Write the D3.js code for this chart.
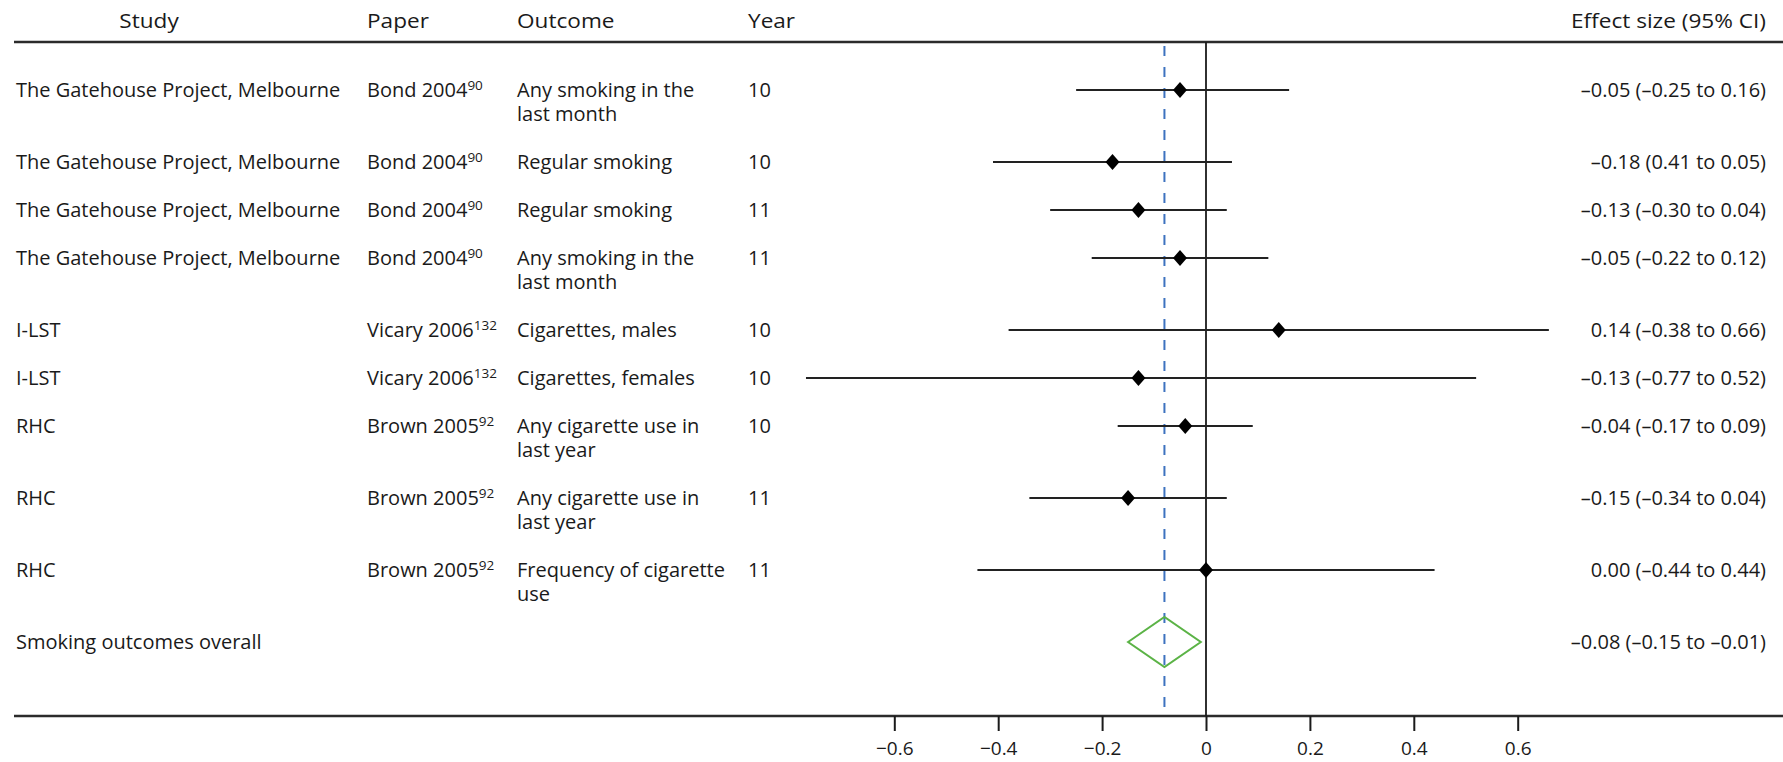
<!DOCTYPE html>
<html>
<head>
<meta charset="utf-8">
<script src="https://cdn.jsdelivr.net/npm/d3@7"></script>
<style>
  html, body { margin: 0; padding: 0; background: #fff; }
  svg { display: block; }
  text { font-family: "Open Sans", "Noto Sans", sans-serif; fill: #1a1a1a; }
</style>
</head>
<body>
<svg id="chart" width="1783" height="762"></svg>
<script>
// Study rows
const studies = [
  "The Gatehouse Project, Melbourne",
  "The Gatehouse Project, Melbourne",
  "The Gatehouse Project, Melbourne",
  "The Gatehouse Project, Melbourne",
  "I-LST",
  "I-LST",
  "RHC",
  "RHC",
  "RHC"
];
const papers = ["Bond 2004", "Bond 2004", "Bond 2004", "Bond 2004", "Vicary 2006", "Vicary 2006", "Brown 2005", "Brown 2005", "Brown 2005"];
const refs = ["90", "90", "90", "90", "132", "132", "92", "92", "92"];
const outcomes = [
  ["Any smoking in the", "last month"],
  ["Regular smoking"],
  ["Regular smoking"],
  ["Any smoking in the", "last month"],
  ["Cigarettes, males"],
  ["Cigarettes, females"],
  ["Any cigarette use in", "last year"],
  ["Any cigarette use in", "last year"],
  ["Frequency of cigarette", "use"]
];
const years = ["10", "10", "11", "11", "10", "10", "10", "11", "11"];
const effects = [-0.05, -0.18, -0.13, -0.05, 0.14, -0.13, -0.04, -0.15, 0.00];
const lowers  = [-0.25, -0.41, -0.30, -0.22, -0.38, -0.77, -0.17, -0.34, -0.44];
const uppers  = [ 0.16,  0.05,  0.04,  0.12,  0.66,  0.52,  0.09,  0.04,  0.44];
const effectLabels = [
  "\u20130.05 (\u20130.25 to 0.16)",
  "\u20130.18 (0.41 to 0.05)",
  "\u20130.13 (\u20130.30 to 0.04)",
  "\u20130.05 (\u20130.22 to 0.12)",
  "0.14 (\u20130.38 to 0.66)",
  "\u20130.13 (\u20130.77 to 0.52)",
  "\u20130.04 (\u20130.17 to 0.09)",
  "\u20130.15 (\u20130.34 to 0.04)",
  "0.00 (\u20130.44 to 0.44)"
];

// Pooled estimate
const overallLabel = "Smoking outcomes overall";
const overallEffect = -0.08;
const overallLower = -0.15;
const overallUpper = -0.01;
const overallText = "\u20130.08 (\u20130.15 to \u20130.01)";

// Column headers and axis ticks
const headers = ["Study", "Paper", "Outcome", "Year", "Effect size (95% CI)"];
const tickValues = [-0.6, -0.4, -0.2, 0, 0.2, 0.4, 0.6];

const svg = d3.select("#chart");
const W = 1783;
const fontSize = 20;

const x = d3.scaleLinear().domain([-0.6, 0.6]).range([894.3, 1517.7]);

// Row layout: single-line rows take 48px, two-line rows 72px
const rowY = [];
let yCur = 90;
outcomes.forEach(o => { rowY.push(yCur); yCur += o.length > 1 ? 72 : 48; });
const overallY = yCur;

const headerLineY = 42;
const axisY = 716;
const col = { study: 16, paper: 367, outcome: 517, year: 748, effect: 1766 };

// Header (slightly widened lettering)
const hdrPos = [
  { x: 149, anchor: "middle" },
  { x: col.paper, anchor: "start" },
  { x: col.outcome, anchor: "start" },
  { x: col.year, anchor: "start" },
  { x: col.effect, anchor: "end" }
];
svg.append("g").attr("font-size", fontSize)
  .selectAll("text").data(headers).join("text")
  .attr("transform", (d, i) => `translate(${hdrPos[i].x},21) scale(1.13,1)`)
  .attr("dy", "0.35em")
  .attr("text-anchor", (d, i) => hdrPos[i].anchor)
  .text(d => d);

// Horizontal rules
svg.append("line").attr("x1", 14).attr("x2", W).attr("y1", headerLineY).attr("y2", headerLineY)
  .attr("stroke", "#2b2b2b").attr("stroke-width", 2.5);
svg.append("line").attr("x1", 14).attr("x2", W).attr("y1", axisY).attr("y2", axisY)
  .attr("stroke", "#2b2b2b").attr("stroke-width", 2.5);

// Axis ticks and labels
const axis = d3.axisBottom(x)
  .tickValues(tickValues)
  .tickSize(15)
  .tickPadding(11)
  .tickFormat(d => d === 0 ? "0" : d3.format(".1f")(d).replace("-", "\u2013"));
const axisG = svg.append("g").attr("transform", `translate(0,${axisY})`).call(axis);
axisG.select(".domain").remove();
axisG.selectAll(".tick line").attr("stroke", "#1a1a1a").attr("stroke-width", 2);
axisG.selectAll(".tick text").attr("font-size", 19).attr("font-family", null).style("fill", "#1a1a1a");

// Reference lines: null effect and pooled estimate
svg.append("line").attr("x1", x(0)).attr("x2", x(0)).attr("y1", headerLineY).attr("y2", axisY)
  .attr("stroke", "#1a1a1a").attr("stroke-width", 1.8);
svg.append("line").attr("x1", x(overallEffect)).attr("x2", x(overallEffect)).attr("y1", headerLineY + 4).attr("y2", axisY)
  .attr("stroke", "#3d72bf").attr("stroke-width", 2).attr("stroke-dasharray", "10,11");

// Rows
const rows = svg.append("g").selectAll("g").data(studies).join("g")
  .attr("font-size", fontSize)
  .attr("transform", (d, i) => `translate(0,${rowY[i]})`);

rows.append("text").attr("x", col.study).attr("dy", "0.35em").text(d => d);

const paperText = rows.append("text").attr("x", col.paper).attr("dy", "0.35em");
paperText.append("tspan").text((d, i) => papers[i]);
paperText.append("tspan").attr("font-size", 13.5).attr("dy", -7).text((d, i) => refs[i]);

rows.each(function(d, i) {
  const g = d3.select(this);
  outcomes[i].forEach((line, j) => {
    g.append("text").attr("x", col.outcome).attr("y", j * 24).attr("dy", "0.35em").text(line);
  });
});

rows.append("text").attr("x", col.year).attr("dy", "0.35em").text((d, i) => years[i]);
rows.append("text").attr("x", col.effect).attr("dy", "0.35em").attr("text-anchor", "end").text((d, i) => effectLabels[i]);

// Confidence intervals
rows.append("line")
  .attr("x1", (d, i) => x(lowers[i])).attr("x2", (d, i) => x(uppers[i]))
  .attr("y1", 0).attr("y2", 0)
  .attr("stroke", "#222").attr("stroke-width", 2);

// Point estimates
rows.append("path")
  .attr("d", (d, i) => {
    const cx = x(effects[i]);
    return `M${cx},-8L${cx + 7},0L${cx},8L${cx - 7},0Z`;
  })
  .attr("fill", "#000");

// Overall row
const ov = svg.append("g").attr("font-size", fontSize).attr("transform", `translate(0,${overallY})`);
ov.append("text").attr("x", col.study).attr("dy", "0.35em").text(overallLabel);
ov.append("text").attr("x", col.effect).attr("dy", "0.35em").attr("text-anchor", "end").text(overallText);
ov.append("path")
  .attr("d", `M${x(overallLower)},0L${x(overallEffect)},-25L${x(overallUpper)},0L${x(overallEffect)},25Z`)
  .attr("fill", "none").attr("stroke", "#5bb346").attr("stroke-width", 2);
</script>
</body>
</html>
